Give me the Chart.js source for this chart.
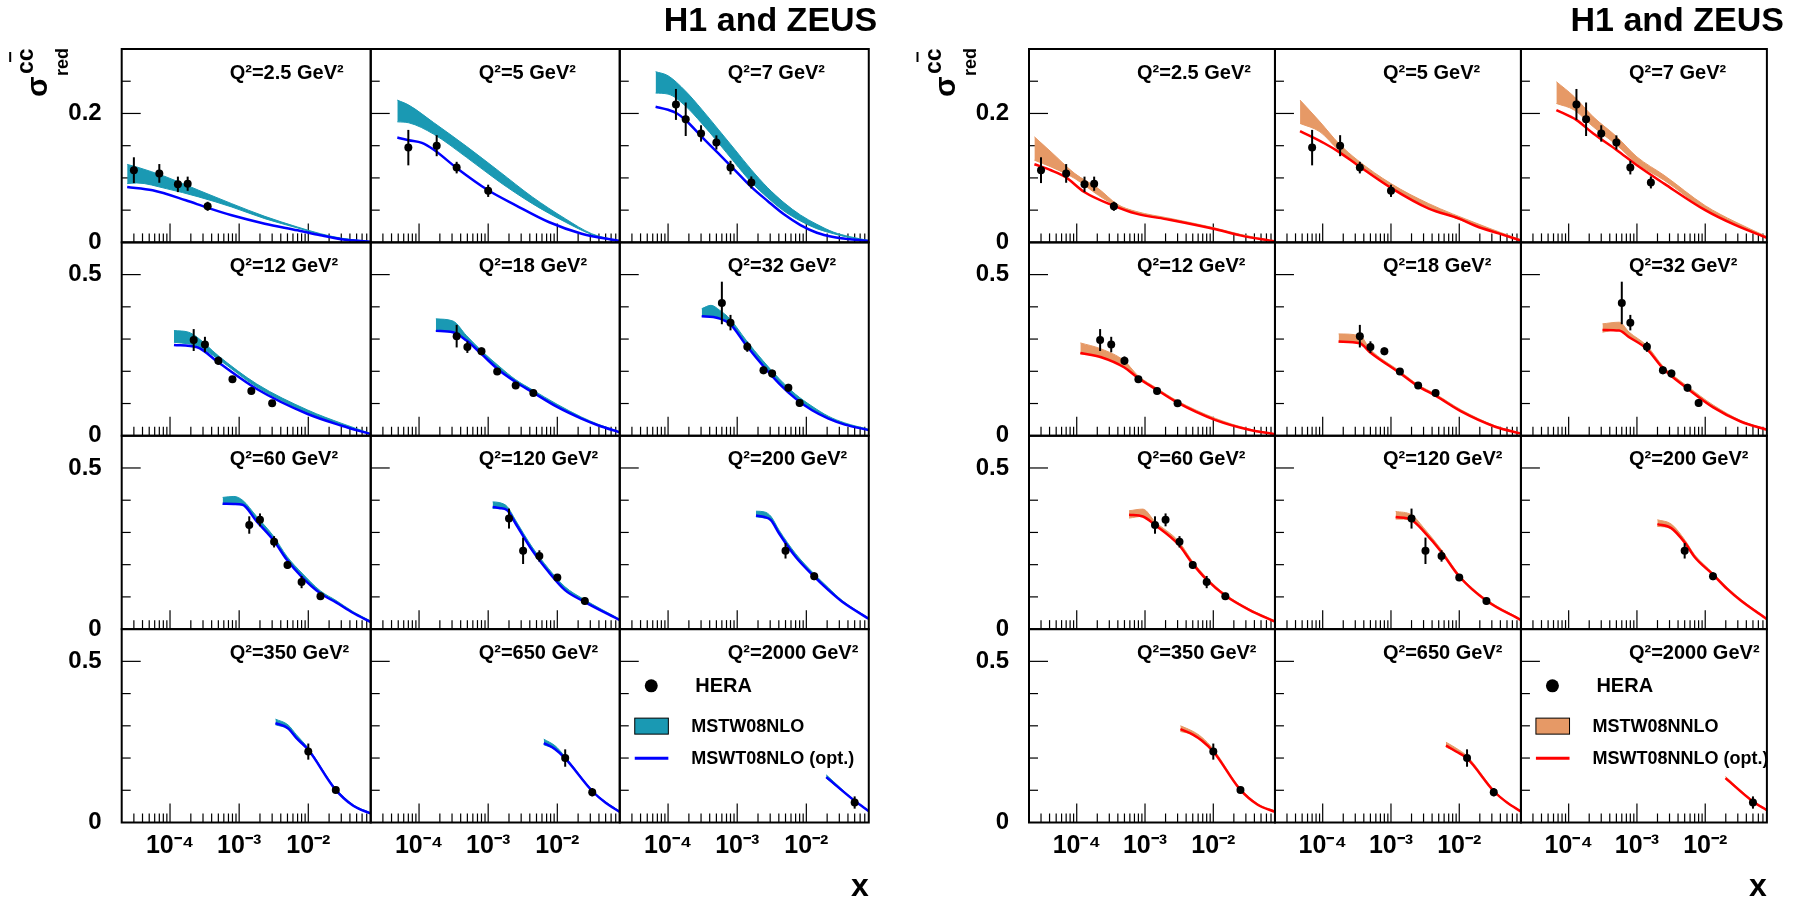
<!DOCTYPE html>
<html>
<head>
<meta charset="utf-8">
<title>H1 and ZEUS charm reduced cross section</title>
<script src="https://cdn.jsdelivr.net/npm/chart.js@4.4.1/dist/chart.umd.min.js"></script>
<style>
html,body{margin:0;padding:0;background:#fff;}
#wrap{position:relative;width:1796px;height:906px;overflow:hidden;background:#fff;}
.panel{position:absolute;top:0;width:898px;height:906px;}
canvas{display:block;}
</style>
</head>
<body>
<div id="wrap">
  <div class="panel" style="left:0px"><canvas id="cL" width="898" height="906"></canvas></div>
  <div class="panel" style="left:898px"><canvas id="cR" width="898" height="906"></canvas></div>
</div>
<script>
// ---------------- data ----------------
const q2Values = [2.5, 5, 7, 12, 18, 32, 60, 120, 200, 350, 650, 2000];

const xRange = [2e-5, 0.08];
const xTickValues = [1e-4, 1e-3, 1e-2];
const xTickLabels = ['10\u207B\u2074', '10\u207B\u00B3', '10\u207B\u00B2'];
const xMinorDecades = [1e-5, 1e-4, 1e-3, 1e-2];
const xMinorSteps = [2, 3, 4, 5, 6, 7, 8, 9];

const yRangeTop = [0, 0.3];
const yRange = [0, 0.6];
const yTickValuesTop = [0, 0.2];
const yTickValues = [0, 0.5];
const yMinorTop = [0.05, 0.1, 0.15, 0.25];
const yMinor = [0.1, 0.2, 0.3, 0.4];

// HERA combined charm data
const heraX = [
  [3e-5, 7e-5, 1.3e-4, 1.8e-4, 3.5e-4],
  [7e-5, 1.8e-4, 3.5e-4, 1e-3],
  [1.3e-4, 1.8e-4, 3e-4, 5e-4, 8e-4, 1.6e-3],
  [2.2e-4, 3.2e-4, 5e-4, 8e-4, 1.5e-3, 3e-3],
  [3.5e-4, 5e-4, 8e-4, 1.35e-3, 2.5e-3, 4.5e-3],
  [6e-4, 8e-4, 1.4e-3, 2.4e-3, 3.2e-3, 5.5e-3, 8e-3],
  [1.4e-3, 2e-3, 3.2e-3, 5e-3, 8e-3, 1.5e-2],
  [2e-3, 3.2e-3, 5.5e-3, 1e-2, 2.5e-2],
  [5e-3, 1.3e-2],
  [1e-2, 2.5e-2],
  [1.3e-2, 3.2e-2],
  [5e-2]
];
const heraY = [
  [0.112, 0.107, 0.090, 0.091, 0.056],
  [0.147, 0.150, 0.116, 0.080],
  [0.214, 0.191, 0.169, 0.155, 0.116, 0.093],
  [0.297, 0.283, 0.233, 0.175, 0.139, 0.101],
  [0.309, 0.275, 0.262, 0.199, 0.156, 0.133],
  [0.412, 0.351, 0.276, 0.203, 0.193, 0.149, 0.102],
  [0.323, 0.339, 0.271, 0.199, 0.146, 0.102],
  [0.343, 0.243, 0.227, 0.160, 0.087],
  [0.243, 0.164],
  [0.220, 0.101],
  [0.200, 0.094],
  [0.062]
];
const heraErr = [
  [0.020, 0.0145, 0.012, 0.011, 0.007],
  [0.0275, 0.0163, 0.009, 0.0095],
  [0.024, 0.026, 0.0127, 0.011, 0.0106, 0.0093],
  [0.034, 0.024, 0.013, 0.010, 0.010, 0.010],
  [0.035, 0.018, 0.012, 0.010, 0.010, 0.010],
  [0.066, 0.024, 0.0155, 0.012, 0.012, 0.012, 0.012],
  [0.027, 0.020, 0.0176, 0.012, 0.019, 0.011],
  [0.031, 0.041, 0.0176, 0.011, 0.011],
  [0.024, 0.012],
  [0.025, 0.010],
  [0.027, 0.013],
  [0.019]
];

// MSTW08 NLO band (left)
const nloBandX = [
  [2.4e-5, 3.3e-5, 8.8e-5, 2.6e-4, 7.8e-4, 2.35e-3, 7e-3, 1.5e-2, 3e-2, 8e-2],
  [4.85e-5, 7.1e-5, 1.62e-4, 4.85e-4, 1.45e-3, 4.35e-3, 1.3e-2, 3.13e-2, 8e-2],
  [6.6e-5, 1.0e-4, 1.77e-4, 3.05e-4, 5.3e-4, 9.16e-4, 1.58e-3, 2.75e-3, 4.74e-3, 8.22e-3, 1.42e-2, 2.46e-2, 4.27e-2, 8e-2],
  [1.14e-4, 1.86e-4, 2.47e-4, 4.97e-4, 1.8e-3, 9.8e-3, 3.05e-2, 8e-2],
  [1.75e-4, 3.09e-4, 4.81e-4, 7.89e-4, 1.44e-3, 2.49e-3, 4.32e-3, 9.93e-3, 2.23e-2, 3.86e-2, 8e-2],
  [3.07e-4, 4.17e-4, 5.61e-4, 7.8e-4, 1.35e-3, 2.33e-3, 4.04e-3, 6.98e-3, 1.21e-2, 2.09e-2, 3.61e-2, 8e-2],
  [5.77e-4, 8.4e-4, 1.12e-3, 1.78e-3, 3.16e-3, 4.9e-3, 8.1e-3, 1.49e-2, 2.52e-2, 4.47e-2, 8e-2],
  [1.16e-3, 1.44e-3, 1.89e-3, 2.49e-3, 4.31e-3, 7.45e-3, 1.29e-2, 2.36e-2, 8e-2],
  [1.87e-3, 2.47e-3, 3.07e-3, 4.04e-3, 6.98e-3, 1.28e-2, 2.09e-2, 3.3e-2, 8e-2],
  [3.35e-3, 5.08e-3, 6.75e-3, 1e-2, 2.44e-2, 4.47e-2, 8e-2],
  [6.37e-3, 9.29e-3, 1.29e-2, 3.24e-2, 5e-2, 8e-2],
  [1.94e-2, 4.99e-2, 8e-2]
];
const nloBandHi = [
  [0.121, 0.117, 0.1016, 0.0808, 0.0601, 0.0404, 0.0238, 0.0135, 0.0065, 0.0012],
  [0.2207, 0.213, 0.186, 0.149, 0.110, 0.0705, 0.0368, 0.0135, 0.002],
  [0.2648, 0.2585, 0.2352, 0.2067, 0.1756, 0.1446, 0.1135, 0.085, 0.0617, 0.0425, 0.028, 0.016, 0.0088, 0.003],
  [0.3264, 0.3212, 0.3057, 0.2487, 0.1606, 0.0798, 0.0383, 0.007],
  [0.3627, 0.356, 0.3116, 0.265, 0.2155, 0.1742, 0.1431, 0.0977, 0.0584, 0.036, 0.0125],
  [0.3943, 0.4047, 0.389, 0.3633, 0.2961, 0.2341, 0.1772, 0.1287, 0.0915, 0.0605, 0.0398, 0.020],
  [0.4086, 0.4117, 0.400, 0.350, 0.2876, 0.226, 0.1738, 0.119, 0.089, 0.054, 0.025],
  [0.3948, 0.3928, 0.380, 0.338, 0.2553, 0.1881, 0.1313, 0.094, 0.031],
  [0.3659, 0.3638, 0.350, 0.307, 0.2346, 0.1726, 0.1282, 0.089, 0.034],
  [0.3207, 0.3031, 0.272, 0.2307, 0.108, 0.055, 0.030],
  [0.2586, 0.2379, 0.205, 0.099, 0.064, 0.035],
  [0.1479, 0.069, 0.037]
];
const nloBandLo = [
  [0.0912, 0.0922, 0.0834, 0.0705, 0.0549, 0.0368, 0.0223, 0.0125, 0.006, 0.001],
  [0.187, 0.1855, 0.168, 0.132, 0.094, 0.0601, 0.0316, 0.0124, 0.0015],
  [0.2316, 0.230, 0.2119, 0.185, 0.1549, 0.1238, 0.0938, 0.0694, 0.0487, 0.0332, 0.0212, 0.0135, 0.0073, 0.0025],
  [0.290, 0.285, 0.279, 0.238, 0.151, 0.071, 0.033, 0.006],
  [0.3264, 0.322, 0.298, 0.256, 0.2045, 0.168, 0.137, 0.0905, 0.054, 0.033, 0.011],
  [0.3705, 0.371, 0.366, 0.350, 0.283, 0.221, 0.164, 0.117, 0.080, 0.054, 0.035, 0.0178],
  [0.387, 0.389, 0.386, 0.337, 0.277, 0.2165, 0.163, 0.112, 0.0835, 0.050, 0.022],
  [0.3742, 0.376, 0.369, 0.329, 0.246, 0.179, 0.122, 0.088, 0.028],
  [0.3483, 0.345, 0.338, 0.2966, 0.2243, 0.1643, 0.1209, 0.085, 0.032],
  [0.3031, 0.290, 0.260, 0.2245, 0.1025, 0.051, 0.027],
  [0.241, 0.2276, 0.1996, 0.0962, 0.061, 0.033],
  [0.1376, 0.0672, 0.035]
];
// MSWT08 NLO (opt.) line (left)
const nloOptX = [
  [2.4e-5, 5.6e-5, 1.69e-4, 3.44e-4, 7.8e-4, 2.35e-3, 7e-3, 1.5e-2, 3e-2, 8e-2],
  [4.85e-5, 7.1e-5, 1.1e-4, 1.62e-4, 3.49e-4, 1e-3, 2.51e-3, 7.5e-3, 2.25e-2, 8e-2],
  [6.6e-5, 1e-4, 1.35e-4, 1.77e-4, 3.05e-4, 5.3e-4, 9.16e-4, 1.58e-3, 2.75e-3, 4.74e-3, 8.22e-3, 1.42e-2, 2.46e-2, 4.27e-2, 8e-2],
  [1.14e-4, 2.47e-4, 4.97e-4, 1.8e-3, 9.8e-3, 3.05e-2, 8e-2],
  [1.75e-4, 3.09e-4, 4.81e-4, 7.89e-4, 1.44e-3, 2.49e-3, 4.32e-3, 9.93e-3, 2.23e-2, 3.86e-2, 8e-2],
  [3.07e-4, 4.5e-4, 5.61e-4, 7.8e-4, 1.35e-3, 2.33e-3, 4.04e-3, 6.98e-3, 1.21e-2, 2.09e-2, 3.61e-2, 8e-2],
  [5.77e-4, 8.4e-4, 1.12e-3, 1.78e-3, 3.16e-3, 4.9e-3, 8.1e-3, 1.49e-2, 2.52e-2, 4.47e-2, 8e-2],
  [1.16e-3, 1.44e-3, 1.89e-3, 2.49e-3, 4.31e-3, 7.45e-3, 1.29e-2, 2.36e-2, 8e-2],
  [1.87e-3, 2.47e-3, 3.07e-3, 4.04e-3, 6.98e-3, 1.28e-2, 2.09e-2, 3.3e-2, 8e-2],
  [3.35e-3, 5.08e-3, 6.75e-3, 1e-2, 2.44e-2, 4.47e-2, 8e-2],
  [6.37e-3, 9.29e-3, 1.29e-2, 3.24e-2, 5e-2, 8e-2],
  [1.94e-2, 4.99e-2, 8e-2]
];
const nloOptY = [
  [0.086, 0.0808, 0.0653, 0.0539, 0.042, 0.029, 0.0187, 0.011, 0.005, 0.001],
  [0.1627, 0.1585, 0.1544, 0.144, 0.1155, 0.0808, 0.0575, 0.0316, 0.0135, 0.002],
  [0.2104, 0.2057, 0.200, 0.1902, 0.1642, 0.1383, 0.1124, 0.0865, 0.0642, 0.0435, 0.0269, 0.015, 0.0083, 0.0047, 0.002],
  [0.2819, 0.2746, 0.228, 0.1451, 0.0674, 0.0311, 0.005],
  [0.3254, 0.321, 0.296, 0.2548, 0.2031, 0.1669, 0.1359, 0.0894, 0.0532, 0.0326, 0.0105],
  [0.3705, 0.3685, 0.3633, 0.3478, 0.2806, 0.2186, 0.1617, 0.1152, 0.079, 0.0532, 0.0346, 0.0175],
  [0.389, 0.388, 0.3858, 0.335, 0.2752, 0.215, 0.1614, 0.111, 0.0828, 0.050, 0.022],
  [0.3793, 0.376, 0.369, 0.3277, 0.245, 0.1778, 0.1209, 0.087, 0.028],
  [0.3525, 0.348, 0.338, 0.2966, 0.2243, 0.1643, 0.1209, 0.085, 0.032],
  [0.3083, 0.2927, 0.2617, 0.2255, 0.1034, 0.0517, 0.028],
  [0.2462, 0.2276, 0.1996, 0.0962, 0.061, 0.033],
  [0.1407, 0.0672, 0.035]
];

// MSTW08 NNLO band (right)
const nnloBandX = [
  [2.4e-5, 4.2e-5, 9.4e-5, 2.08e-4, 3.94e-4, 7.4e-4, 2.27e-3, 1e-2, 2.48e-2, 8e-2],
  [4.66e-5, 9.12e-5, 1.72e-4, 3.25e-4, 1e-3, 3.58e-3, 1.75e-2, 4e-2, 8e-2],
  [6.61e-5, 1.21e-4, 2.29e-4, 5.08e-4, 1e-3, 2.5e-3, 1e-2, 2.73e-2, 8e-2],
  [1.13e-4, 2.28e-4, 4.92e-4, 7.9e-4, 1.5e-3, 2.95e-3, 1.08e-2, 3.35e-2, 8e-2],
  [1.71e-4, 3.5e-4, 4.92e-4, 1.36e-3, 2.49e-3, 4.47e-3, 1.08e-2, 3.35e-2, 8e-2],
  [3.13e-4, 5.5e-4, 7.7e-4, 1.39e-3, 2.44e-3, 5.6e-3, 1.31e-2, 3.35e-2, 8e-2],
  [5.84e-4, 9.3e-4, 1.39e-3, 3.12e-3, 4.9e-3, 7.85e-3, 1.49e-2, 3.35e-2, 8e-2],
  [1.17e-3, 1.99e-3, 3.18e-3, 5.4e-3, 1e-2, 2.47e-2, 8e-2],
  [1.99e-3, 3.18e-3, 5.09e-3, 6.98e-3, 1.31e-2, 2.09e-2, 3.35e-2, 8e-2],
  [3.3e-3, 5.09e-3, 6.76e-3, 1e-2, 2.44e-2, 4.47e-2, 8e-2],
  [6.38e-3, 8.97e-3, 1.29e-2, 3.24e-2, 5e-2, 8e-2],
  [1.98e-2, 4.99e-2, 8e-2]
];
const nnloBandHi = [
  [0.1637, 0.1404, 0.1067, 0.0834, 0.059, 0.048, 0.0375, 0.023, 0.0125, 0.002],
  [0.2207, 0.187, 0.1534, 0.1275, 0.0912, 0.0601, 0.030, 0.0155, 0.004],
  [0.2492, 0.2259, 0.1948, 0.1637, 0.1326, 0.1041, 0.057, 0.032, 0.009],
  [0.2881, 0.2694, 0.2332, 0.1865, 0.1472, 0.1088, 0.0539, 0.021, 0.006],
  [0.316, 0.311, 0.2694, 0.200, 0.1585, 0.1295, 0.0798, 0.031, 0.008],
  [0.3472, 0.3523, 0.3212, 0.2798, 0.2145, 0.1523, 0.0953, 0.047, 0.020],
  [0.3672, 0.3724, 0.3341, 0.272, 0.2121, 0.1614, 0.1086, 0.063, 0.026],
  [0.3652, 0.3548, 0.3083, 0.2483, 0.1686, 0.0931, 0.031],
  [0.3393, 0.3258, 0.2752, 0.231, 0.1738, 0.130, 0.092, 0.033],
  [0.300, 0.2824, 0.2648, 0.2276, 0.108, 0.058, 0.036],
  [0.2493, 0.2307, 0.2069, 0.100, 0.064, 0.036],
  [0.1428, 0.068, 0.040]
];
const nnloBandLo = [
  [0.1275, 0.1171, 0.099, 0.073, 0.0555, 0.0455, 0.0355, 0.0215, 0.011, 0.0015],
  [0.1845, 0.1715, 0.143, 0.1223, 0.086, 0.0549, 0.026, 0.014, 0.003],
  [0.2155, 0.2052, 0.1793, 0.1508, 0.1223, 0.0964, 0.051, 0.028, 0.007],
  [0.254, 0.247, 0.216, 0.181, 0.143, 0.105, 0.050, 0.019, 0.005],
  [0.290, 0.290, 0.262, 0.195, 0.155, 0.126, 0.076, 0.029, 0.007],
  [0.3212, 0.330, 0.308, 0.271, 0.209, 0.147, 0.090, 0.044, 0.019],
  [0.3445, 0.350, 0.325, 0.263, 0.206, 0.156, 0.105, 0.060, 0.023],
  [0.3414, 0.340, 0.299, 0.242, 0.164, 0.089, 0.028],
  [0.3186, 0.313, 0.267, 0.224, 0.1686, 0.125, 0.088, 0.031],
  [0.2824, 0.272, 0.2545, 0.2203, 0.1034, 0.055, 0.033],
  [0.2338, 0.2203, 0.1996, 0.0962, 0.061, 0.034],
  [0.1345, 0.0652, 0.038]
];
// MSWT08 NNLO (opt.) line (right)
const nnloOptX = [
  [2.4e-5, 4.2e-5, 6.8e-5, 1.29e-4, 3.36e-4, 7.4e-4, 2.27e-3, 1e-2, 2.48e-2, 8e-2],
  [4.66e-5, 1.07e-4, 1.72e-4, 3.25e-4, 1e-3, 3.58e-3, 1e-2, 1.75e-2, 3.87e-2, 8e-2],
  [6.61e-5, 1.31e-4, 2.29e-4, 5.08e-4, 1e-3, 2.5e-3, 1e-2, 2.73e-2, 8e-2],
  [1.13e-4, 2.28e-4, 4.92e-4, 7.9e-4, 1.5e-3, 2.95e-3, 1.08e-2, 3.35e-2, 8e-2],
  [1.71e-4, 3.5e-4, 4.92e-4, 1.36e-3, 2.49e-3, 4.47e-3, 1.08e-2, 3.35e-2, 8e-2],
  [3.13e-4, 5.5e-4, 7.7e-4, 1.39e-3, 2.44e-3, 5.6e-3, 1.31e-2, 3.35e-2, 8e-2],
  [5.84e-4, 9.3e-4, 1.39e-3, 3.12e-3, 4.9e-3, 7.85e-3, 1.49e-2, 3.35e-2, 8e-2],
  [1.17e-3, 1.99e-3, 3.18e-3, 5.4e-3, 1e-2, 2.47e-2, 8e-2],
  [1.99e-3, 3.18e-3, 5.09e-3, 6.98e-3, 1.31e-2, 2.09e-2, 3.35e-2, 8e-2],
  [3.3e-3, 5.09e-3, 6.76e-3, 1e-2, 2.44e-2, 4.47e-2, 8e-2],
  [6.38e-3, 8.97e-3, 1.29e-2, 3.24e-2, 5e-2, 8e-2],
  [1.98e-2, 4.99e-2, 8e-2]
];
const nnloOptY = [
  [0.1212, 0.1119, 0.1016, 0.0782, 0.0575, 0.0446, 0.0352, 0.0212, 0.0109, 0.0012],
  [0.1725, 0.1534, 0.1404, 0.1197, 0.0845, 0.0523, 0.0368, 0.0254, 0.0135, 0.003],
  [0.2052, 0.1896, 0.1689, 0.143, 0.1197, 0.0912, 0.050, 0.027, 0.007],
  [0.257, 0.2435, 0.2124, 0.1793, 0.142, 0.1036, 0.0487, 0.0187, 0.005],
  [0.2922, 0.287, 0.259, 0.1938, 0.1534, 0.1244, 0.0746, 0.028, 0.007],
  [0.3285, 0.3264, 0.3057, 0.2694, 0.2073, 0.1451, 0.0881, 0.0435, 0.0187],
  [0.3548, 0.3496, 0.3238, 0.2617, 0.2048, 0.1552, 0.1045, 0.060, 0.023],
  [0.3476, 0.3393, 0.2979, 0.241, 0.1634, 0.089, 0.028],
  [0.3258, 0.3134, 0.2669, 0.224, 0.1686, 0.125, 0.088, 0.031],
  [0.2896, 0.2721, 0.2545, 0.2203, 0.1034, 0.055, 0.033],
  [0.239, 0.2203, 0.1996, 0.0962, 0.062, 0.0341],
  [0.1376, 0.0652, 0.038]
];

// ---------------- drawing ----------------
const FONT = '"Liberation Sans", Arial, Helvetica, sans-serif';
const CANVAS_H = 906;

function pts(xs, ys) { return xs.map((x, i) => ({x: x, y: ys[i]})); }

function line(ctx, x1, y1, x2, y2) {
  ctx.beginPath(); ctx.moveTo(x1, y1); ctx.lineTo(x2, y2); ctx.stroke();
}

function makePanel(canvasId, cfg) {
  const datasets = [];
  for (let k = 0; k < q2Values.length; k++) {
    const r = Math.floor(k / 3), c = k % 3;
    const xa = 'x' + c, ya = 'y' + r;
    datasets.push({
      data: pts(cfg.bandX[k], cfg.bandLo[k]), xAxisID: xa, yAxisID: ya,
      showLine: true, pointRadius: 0, borderWidth: 1, borderColor: cfg.bandColor,
      backgroundColor: cfg.bandColor, fill: false, cubicInterpolationMode: 'monotone', order: 3
    });
    datasets.push({
      data: pts(cfg.bandX[k], cfg.bandHi[k]), xAxisID: xa, yAxisID: ya,
      showLine: true, pointRadius: 0, borderWidth: 1, borderColor: cfg.bandColor,
      backgroundColor: cfg.bandColor, fill: '-1', cubicInterpolationMode: 'monotone', order: 3
    });
    datasets.push({
      data: pts(cfg.lineX[k], cfg.lineY[k]), xAxisID: xa, yAxisID: ya,
      showLine: true, pointRadius: 0, borderWidth: 2.5, borderColor: cfg.lineColor,
      fill: false, cubicInterpolationMode: 'monotone', order: 2
    });
    datasets.push({
      data: pts(heraX[k], heraY[k]), xAxisID: xa, yAxisID: ya,
      showLine: false, pointRadius: 4, pointBackgroundColor: '#000', pointBorderColor: '#000',
      pointBorderWidth: 0, fill: false, errors: heraErr[k], order: 1
    });
  }

  const scales = {};
  for (let r = 3; r >= 0; r--) {
    const isTop = (r === 0);
    scales['y' + r] = {
      type: 'linear', axis: 'y', position: 'left', stack: 'rows', stackWeight: 1,
      min: isTop ? yRangeTop[0] : yRange[0], max: isTop ? yRangeTop[1] : yRange[1],
      grid: {display: false, drawTicks: false, tickLength: 0}, border: {display: false},
      ticks: {color: '#000', padding: 20, autoSkip: false,
              font: {family: FONT, size: 24, weight: 'bold'},
              callback: (v) => String(v)},
      afterBuildTicks: (s) => { s.ticks = (isTop ? yTickValuesTop : yTickValues).map(v => ({value: v})); },
      afterFit: (s) => { s.width = cfg.areaLeft; }
    };
  }
  for (let c = 0; c < 3; c++) {
    scales['x' + c] = {
      type: 'logarithmic', axis: 'x', position: 'bottom', stack: 'cols', stackWeight: 1,
      min: xRange[0], max: xRange[1],
      grid: {display: false, drawTicks: false, tickLength: 0}, border: {display: false},
      ticks: {color: '#000', padding: 9, autoSkip: false, maxRotation: 0, minRotation: 0,
              font: {family: FONT, size: 25, weight: 'bold'},
              callback: (v, i) => xTickLabels[i]},
      afterBuildTicks: (s) => { s.ticks = xTickValues.map(v => ({value: v})); },
      afterFit: (s) => { s.height = CANVAS_H - cfg.areaBottom; },
      title: (c === 2) ? {display: true, text: 'x', align: 'end', color: '#000',
                          font: {family: FONT, size: 32, weight: 'bold'}, padding: {top: 0, bottom: 0}}
                       : {display: false}
    };
  }

  const decor = {
    id: 'decor',
    beforeDatasetsDraw(chart) {
      const ctx = chart.ctx;
      ctx.save();
      ctx.strokeStyle = '#000';
      ctx.lineWidth = 1.2;
      for (let r = 0; r < 4; r++) {
        const ys = chart.scales['y' + r];
        for (let c = 0; c < 3; c++) {
          const xs = chart.scales['x' + c];
          const L = xs.left, B = ys.bottom;
          xTickValues.forEach(v => { const p = xs.getPixelForValue(v); line(ctx, p, B, p, B - 19); });
          xMinorDecades.forEach(d => xMinorSteps.forEach(k => {
            const v = d * k;
            if (v > xRange[0] && v < xRange[1]) { const p = xs.getPixelForValue(v); line(ctx, p, B, p, B - 9); }
          }));
          const maj = r === 0 ? [yTickValuesTop[1]] : [yTickValues[1]];
          const mnr = r === 0 ? yMinorTop : yMinor;
          maj.forEach(v => { const p = ys.getPixelForValue(v); line(ctx, L, p, L + 19, p); });
          mnr.forEach(v => { const p = ys.getPixelForValue(v); line(ctx, L, p, L + 9, p); });
        }
      }
      ctx.restore();
    },
    afterDatasetsDraw(chart) {
      const ctx = chart.ctx;
      ctx.save();
      // error bars
      ctx.strokeStyle = '#000';
      ctx.lineWidth = 2;
      chart.data.datasets.forEach(ds => {
        if (!ds.errors) return;
        const xs = chart.scales[ds.xAxisID], ys = chart.scales[ds.yAxisID];
        ds.data.forEach((p, j) => {
          const px = xs.getPixelForValue(p.x);
          line(ctx, px, ys.getPixelForValue(p.y - ds.errors[j]), px, ys.getPixelForValue(p.y + ds.errors[j]));
        });
      });
      // frames
      ctx.lineWidth = 2;
      for (let r = 0; r < 4; r++) {
        const ys = chart.scales['y' + r];
        for (let c = 0; c < 3; c++) {
          const xs = chart.scales['x' + c];
          ctx.strokeRect(xs.left, ys.top, xs.right - xs.left, ys.bottom - ys.top);
        }
      }
      ctx.restore();
    },
    afterDraw(chart) {
      const ctx = chart.ctx;
      ctx.save();
      ctx.fillStyle = '#000';
      // Q2 labels
      ctx.font = 'bold 20px ' + FONT;
      ctx.textBaseline = 'alphabetic';
      ctx.textAlign = 'left';
      for (let k = 0; k < q2Values.length; k++) {
        const r = Math.floor(k / 3), c = k % 3;
        const xs = chart.scales['x' + c], ys = chart.scales['y' + r];
        ctx.fillText('Q\u00B2=' + q2Values[k] + ' GeV\u00B2', xs.left + 108, ys.top + 29.5);
      }
      // legend in last cell
      const lx = chart.scales['x2'].left, ly = chart.scales['y3'].top;
      ctx.beginPath(); ctx.arc(lx + 31.5, ly + 56.7, 6.5, 0, Math.PI * 2); ctx.fill();
      ctx.textBaseline = 'middle';
      ctx.font = 'bold 20px ' + FONT;
      ctx.fillText('HERA', lx + 75.5, ly + 57);
      ctx.fillStyle = cfg.bandColor;
      ctx.fillRect(lx + 15, ly + 89, 33.6, 16);
      ctx.strokeStyle = '#000'; ctx.lineWidth = 1;
      ctx.strokeRect(lx + 15, ly + 89, 33.6, 16);
      ctx.fillStyle = '#000';
      ctx.font = 'bold 18px ' + FONT;
      ctx.fillText(cfg.bandLabel, lx + 71.6, ly + 97.5);
      ctx.strokeStyle = cfg.lineColor; ctx.lineWidth = 3;
      line(ctx, lx + 15, ly + 129, lx + 48.6, ly + 129);
      ctx.fillText(cfg.lineLabel, lx + 71.6, ly + 129.5);
      // y-axis title sigma^{c cbar}_{red}
      const ax = chart.chartArea.left - 74.5, ay = 97;
      ctx.translate(ax, ay);
      ctx.rotate(-Math.PI / 2);
      ctx.textBaseline = 'alphabetic';
      ctx.textAlign = 'left';
      ctx.font = 'bold 30px ' + FONT;
      ctx.fillText('\u03C3', 0, 0);
      ctx.font = 'bold 23px ' + FONT;
      ctx.fillText('cc', 23, -14);
      ctx.strokeStyle = '#000'; ctx.lineWidth = 2;
      line(ctx, 35, -37, 45, -37);
      ctx.font = 'bold 18px ' + FONT;
      ctx.fillText('red', 21, 21);
      ctx.restore();
    }
  };

  return new Chart(document.getElementById(canvasId), {
    type: 'line',
    data: {datasets: datasets},
    options: {
      responsive: false, maintainAspectRatio: false, animation: false, devicePixelRatio: 1,
      events: [],
      layout: {padding: {top: 1, left: 0, right: cfg.padRight, bottom: 0}},
      plugins: {
        legend: {display: false}, tooltip: {enabled: false},
        title: {display: true, text: 'H1 and ZEUS', align: 'end', color: '#000',
                font: {family: FONT, size: 34, weight: 'bold'}, padding: {top: 0, bottom: 7.2}}
      },
      scales: scales
    },
    plugins: [decor]
  });
}

makePanel('cL', {
  areaLeft: 121.7, padRight: 898 - 877.3, areaBottom: 822.5,
  bandColor: 'rgb(26,153,179)', lineColor: 'rgb(0,0,255)',
  bandLabel: 'MSTW08NLO', lineLabel: 'MSWT08NLO (opt.)',
  bandX: nloBandX, bandLo: nloBandLo, bandHi: nloBandHi, lineX: nloOptX, lineY: nloOptY
});
makePanel('cR', {
  areaLeft: 131, padRight: 12, areaBottom: 822.5,
  bandColor: 'rgb(230,153,102)', lineColor: 'rgb(255,0,0)',
  bandLabel: 'MSTW08NNLO', lineLabel: 'MSWT08NNLO (opt.)',
  bandX: nnloBandX, bandLo: nnloBandLo, bandHi: nnloBandHi, lineX: nnloOptX, lineY: nnloOptY
});
</script>
</body>
</html>
